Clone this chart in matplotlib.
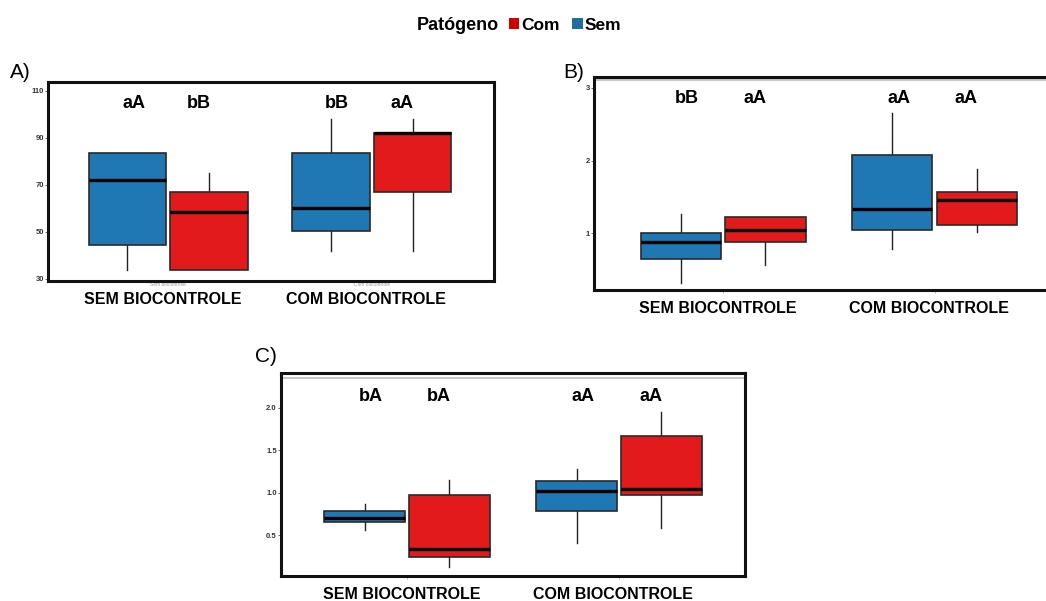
import matplotlib.pyplot as plt
from matplotlib.patches import Patch

plt.rcParams["font.family"] = ["Liberation Sans", "DejaVu Sans"]

BLUE = "#1f77b4"
RED = "#e31a1c"

groups = ["SEM BIOCONTROLE", "COM BIOCONTROLE"]
# box order in each panel: Sem@SEM, Com@SEM, Sem@COM, Com@COM (patógeno)
box_colors = [BLUE, RED, BLUE, RED]

# panel A
a_q1 = [44.4, 33.5, 50.2, 66.8]
a_med = [71.9, 58.4, 60.3, 91.9]
a_q3 = [83.4, 66.8, 83.4, 92.2]
a_lo = [33.7, 33.5, 41.9, 41.9]
a_hi = [83.4, 75.0, 98.2, 98.2]
a_letters = ["aA", "bB", "bB", "aA"]
a_yticks = [30, 50, 70, 90, 110]

# panel B
b_q1 = [0.65, 0.88, 1.05, 1.11]
b_med = [0.88, 1.05, 1.33, 1.46]
b_q3 = [1.00, 1.22, 2.08, 1.57]
b_lo = [0.32, 0.57, 0.79, 1.02]
b_hi = [1.26, 1.22, 2.65, 1.88]
b_letters = ["bB", "aA", "aA", "aA"]
b_yticks = [1, 2, 3]

# panel C
c_q1 = [0.66, 0.25, 0.79, 0.98]
c_med = [0.71, 0.34, 1.02, 1.05]
c_q3 = [0.79, 0.97, 1.14, 1.67]
c_lo = [0.56, 0.13, 0.41, 0.59]
c_hi = [0.87, 1.15, 1.28, 1.95]
c_letters = ["bA", "bA", "aA", "aA"]
c_yticks = [0.5, 1.0, 1.5, 2.0]


def draw_panel(ax, q1, med, q3, lo, hi, letters, yticks, ylim, xlim,
               letter_y, tick_fmt, gray_line=None, sub_labels=None):
    pos = [0.8, 1.2, 1.8, 2.2]
    stats = []
    for i in range(4):
        stats.append({"q1": q1[i], "med": med[i], "q3": q3[i],
                      "whislo": lo[i], "whishi": hi[i], "fliers": []})
    bp = ax.bxp(stats, positions=pos, widths=0.38, patch_artist=True,
                showfliers=False, showcaps=False,
                boxprops=dict(edgecolor="#2a2a2a", linewidth=1.2),
                medianprops=dict(color="black", linewidth=2.4),
                whiskerprops=dict(color="#222222", linewidth=1.0),
                manage_ticks=False)
    for patch, c in zip(bp["boxes"], box_colors):
        patch.set_facecolor(c)
    for w in bp["whiskers"]:
        w.set_zorder(1)

    offsets = [-0.17, 0.15]
    for i, lab in enumerate(letters):
        g = 1 + i // 2
        ax.text(g + offsets[i % 2], letter_y, lab, ha="center", va="center",
                fontsize=13, fontweight="bold")

    if gray_line is not None:
        ax.axhline(gray_line, color="#c8c8c8", linewidth=1.5, zorder=0)

    ax.set_xlim(*xlim)
    ax.set_ylim(*ylim)
    ax.set_yticks(yticks)
    ax.set_yticklabels([tick_fmt.format(t) for t in yticks],
                       fontsize=5.5, fontweight="bold", color="#333333")
    ax.tick_params(axis="y", length=2, width=0.6, pad=1, color="#555555")
    ax.set_xticks([1, 2])
    if sub_labels:
        ax.set_xticklabels(sub_labels, fontsize=3.5, color="#999999")
        ax.tick_params(axis="x", length=0, pad=1)
    else:
        ax.set_xticklabels(["", ""])
        ax.tick_params(axis="x", length=2, width=0.5, color="#999999")
    for s in ax.spines.values():
        s.set_linewidth(2.2)
        s.set_color("#111111")

    for g, name in zip([1, 2], groups):
        ax.annotate(name, xy=(g, 0), xycoords=("data", "axes fraction"),
                    xytext=(-4, -13), textcoords="offset points",
                    ha="center", va="center", fontsize=11.5, fontweight="bold")


fig = plt.figure(figsize=(10.46, 6.01), dpi=100)

ax_a = fig.add_axes([0.0459, 0.5324, 0.4264, 0.3311])
draw_panel(ax_a, a_q1, a_med, a_q3, a_lo, a_hi, a_letters, a_yticks,
           (29, 113.8), (0.41, 2.60), 104.8, "{:d}",
           sub_labels=["Sem biocontrole", "Com biocontrole"])

ax_b = fig.add_axes([0.5679, 0.5175, 0.4489, 0.3544])
draw_panel(ax_b, b_q1, b_med, b_q3, b_lo, b_hi, b_letters, b_yticks,
           (0.22, 3.15), (0.39, 2.61), 2.85, "{:d}", gray_line=3.105)

ax_c = fig.add_axes([0.2686, 0.0416, 0.4436, 0.3378])
draw_panel(ax_c, c_q1, c_med, c_q3, c_lo, c_hi, c_letters, c_yticks,
           (0.022, 2.41), (0.406, 2.594), 2.13, "{:.1f}", gray_line=2.35)

fig.text(10 / 1046, 1 - 72 / 601, "A)", fontsize=15, va="center")
fig.text(563 / 1046, 1 - 73 / 601, "B)", fontsize=15, va="center")
fig.text(255 / 1046, 1 - 357 / 601, "C)", fontsize=15, va="center")

fig.text(417 / 1046, 1 - 25 / 601, "Patógeno", fontsize=13, fontweight="bold",
         va="center", ha="left")
handles = [Patch(facecolor="#cc0000", edgecolor="none"),
           Patch(facecolor="#1f6e9c", edgecolor="none")]
fig.legend(handles, ["Com", "Sem"], loc="center left",
           bbox_to_anchor=(509 / 1046, 1 - 25 / 601), ncol=2, frameon=False,
           handlelength=0.6, handleheight=0.6, handletextpad=0.12,
           columnspacing=0.7, borderpad=0, borderaxespad=0,
           prop={"weight": "bold", "size": 12.5})

fig.savefig("out.png", dpi=100)
